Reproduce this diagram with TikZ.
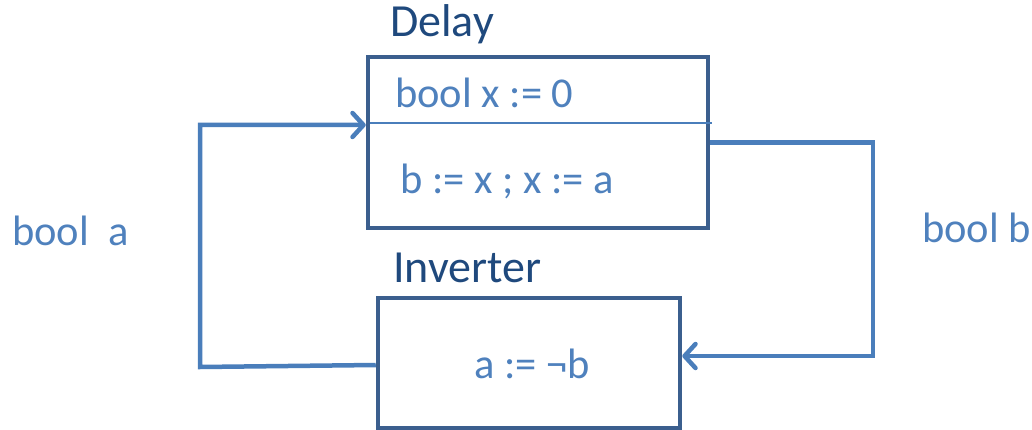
\documentclass[tikz,border=0pt]{standalone}
\usepackage{fontspec}
\setmainfont{Carlito}
\usepackage{xcolor}
\usetikzlibrary{arrows.meta}
\definecolor{boxblue}{HTML}{3B5F8E}
\definecolor{lineblue}{HTML}{4A7EBB}
\definecolor{textblue}{HTML}{4F81BD}
\definecolor{titleblue}{HTML}{1F497D}
\begin{document}
\begin{tikzpicture}[x=1pt, y=-1pt,
		block/.style={draw=boxblue, line width=4.5pt, rectangle, inner sep=0pt},
		title/.style={anchor=base west, inner sep=0pt, text=titleblue, font=\fontsize{46}{50}\selectfont},
		code/.style={anchor=base west, inner sep=0pt, text=textblue, font=\fontsize{42.5}{46}\selectfont},
		conn/.style={draw=lineblue, line width=4.5pt},
		arr/.style={conn, -{Straight Barb[length=11pt, width=24pt, round]}}]
			\useasboundingbox (0,0) rectangle (1032,430);
			% Nodes
			\node[block, minimum width=340pt, minimum height=171pt] (delay) at (538,142.5) {};
			\node[block, minimum width=302pt, minimum height=130pt] (inv) at (529,363) {};
			\node[title] (tdelay) at (390,37) {Delay};
			\node[title] (tinv) at (393,282) {Inverter};
			\node[code] (decl) at (395,108) {bool x := 0};
			\node[code] (body) at (400,194) {b := x ; x := a};
			\node[code] (neg) at (474,378) {a := ¬b};
			\node[code] (la) at (12,245) {bool\hspace{0.45em}a};
			\node[code] (lb) at (922,242) {bool b};
			\coordinate (dl) at (370,123);
			\coordinate (dr) at (712,123);
			\coordinate (c1) at (200,367);
			\coordinate (c2) at (200,125);
			\coordinate (c3) at (873,142.5);
			\coordinate (c4) at (873,356);
			% Edges
			\draw[draw=lineblue, line width=2pt] (dl) -- (dr);
			\draw[arr] (inv.west |- 0,365) -- (c1) -- (c2) -- (delay.west |- c2);
			\draw[arr] (delay.east) -- (c3) -- (c4) -- (inv.east |- c4);
		\end{tikzpicture}
\end{document}
